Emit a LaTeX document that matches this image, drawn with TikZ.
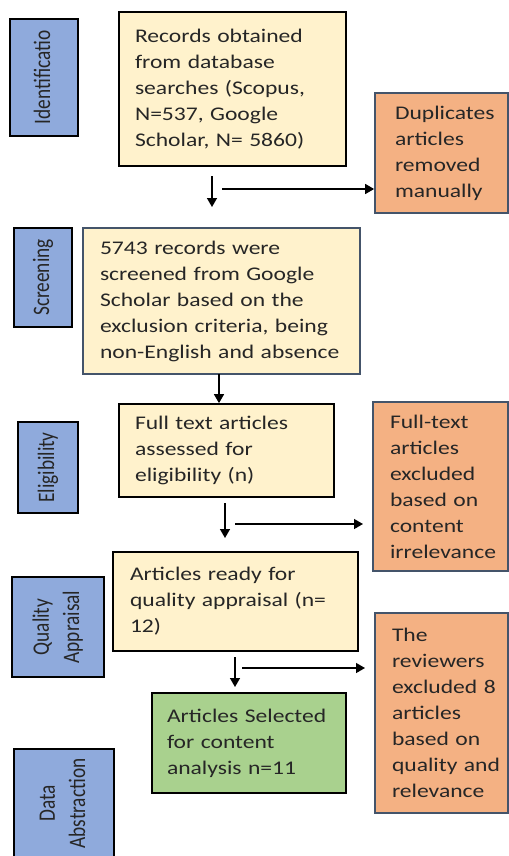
\documentclass[tikz,border=0pt]{standalone}
\usepackage{fontspec}
\setmainfont{Carlito}
\newfontfamily\boxfont{Carlito}[FakeStretch=1.22]
\usepackage{graphicx}
\usetikzlibrary{arrows.meta}

\definecolor{boxyellow}{HTML}{FFF2CC}
\definecolor{boxorange}{HTML}{F4B183}
\definecolor{stageblue}{HTML}{8FAADC}
\definecolor{boxgreen}{HTML}{A9D18E}
\definecolor{slate}{HTML}{44546A}
\definecolor{ink}{HTML}{262626}

\hyphenpenalty=10000
\exhyphenpenalty=10000

\newcommand{\sidelabel}[1]{\scalebox{1}[1.22]{\begin{tabular}{@{}c@{}}#1\end{tabular}}}

\tikzset{
  stage/.style={draw=black, line width=1pt, fill=stageblue, text=ink, rotate=90, inner sep=0pt,
    font=\fontsize{11}{14}\selectfont},
  flowbox/.style={draw=black, line width=1pt, fill=boxyellow, text=ink, align=left,
    inner xsep=0.32cm, inner ysep=0pt, font=\boxfont\fontsize{11}{14.8}\selectfont},
  outbox/.style={flowbox, fill=boxorange, draw=slate, inner xsep=0.34cm},
  arr/.style={-{Triangle[length=1.8mm,width=2mm]}, line width=0.8pt}
}

\begin{document}
\begin{tikzpicture}[x=0.02cm, y=-0.02cm]
    \useasboundingbox (0,0) rectangle (509,856);
    \clip (0,0) rectangle (509,856);

    % stage labels on the left
    \node [stage, minimum width=2.34cm, minimum height=1.36cm] (ident) at (44,77.5) {\sidelabel{Identificatio}};
    \node [stage, minimum width=1.98cm, minimum height=1.16cm] (screen) at (43,277.5) {\sidelabel{Screening}};
    \node [stage, minimum width=1.82cm, minimum height=1.2cm] (elig) at (48,467.5) {\sidelabel{Eligibility}};
    \node [stage, minimum width=2cm, minimum height=1.84cm] (qual) at (58,627) {\sidelabel{Quality\\Appraisal}};
    \node [stage, minimum width=2.18cm, minimum height=2cm] (abstr) at (64,803.5) {\sidelabel{Data\\Abstraction}};

    % main column
    \node [flowbox, text width=3.9cm, minimum height=3.08cm] (rec) at (232.5,89)
      {Records obtained\\from database\\searches (Scopus,\\N=537, Google\\Scholar, N= 5860)};
    \node [flowbox, draw=slate, inner xsep=0.34cm, text width=4.86cm, minimum height=2.92cm] (scr) at (221.5,301)
      {5743 records were\\screened from Google\\Scholar based on the\\exclusion criteria, being\\non-English and absence};
    \node [flowbox, text width=3.66cm, minimum height=1.86cm] (full) at (226.5,450.5)
      {Full text articles\\assessed for\\eligibility (n)};
    \node [flowbox, inner xsep=0.34cm, text width=4.22cm, minimum height=1.98cm] (ready) at (235.5,601.5)
      {Articles ready for\\quality appraisal (n=\\12)};
    \node [flowbox, fill=boxgreen, inner xsep=0.3cm, text width=3.28cm, minimum height=2cm] (sel) at (249,743)
      {Articles~Selected\\for content\\analysis n=11};

    % excluded boxes on the right
    \node [outbox, inner xsep=0.4cm, text width=1.86cm, minimum height=2.4cm] (dup) at (441.5,153)
      {Duplicates\\articles\\removed\\manually};
    \node [outbox, text width=2.02cm, minimum height=3.38cm] (excl1) at (440.5,486.5)
      {Full-text\\articles\\excluded\\based on\\content\\irrelevance};
    \node [outbox, text width=1.98cm, minimum height=4cm] (excl2) at (441.5,713)
      {The\\reviewers\\excluded~8\\articles\\based on\\quality~and\\relevance};

    % arrows
    \coordinate (d1) at (212,176); \coordinate (h1) at (222,189);
    \draw [arr] (d1) -- ++(0,31);
    \draw [arr] (h1) -- (h1 -| dup.west);
    \coordinate (d2) at (219,374);
    \draw [arr] (d2) -- (d2 |- full.north);
    \coordinate (d3) at (225,503); \coordinate (h3) at (235,524); \coordinate (t3) at (363,524);
    \draw [arr] (d3) -- ++(0,35);
    \draw [arr] (h3) -- (t3);
    \coordinate (d4) at (235,657); \coordinate (h4) at (242,668); \coordinate (t4) at (365,668);
    \draw [arr] (d4) -- ++(0,30);
    \draw [arr] (h4) -- (t4);
\end{tikzpicture}
\end{document}
